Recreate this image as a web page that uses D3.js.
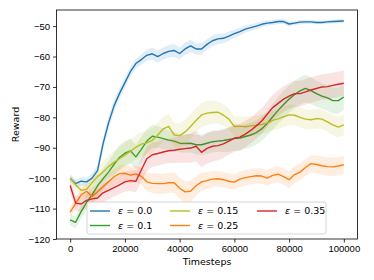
<!DOCTYPE html>
<html>
<head>
<meta charset="utf-8">
<script src="https://cdn.jsdelivr.net/npm/d3@7"></script>
<style>
  body { margin: 0; background: #fff; }
  svg { display: block; font-family: "DejaVu Sans", sans-serif; }
  .axis text { font-size: 9.5px; fill: #000; }
  .axis line { stroke: #000; stroke-width: 0.8; }
</style>
</head>
<body>
<svg width="374" height="280"></svg>
<script>
var steps = [0, 2000, 4000, 6000, 8000, 10000, 12000, 14000, 16000, 18000, 20000,
  22000, 24000, 26000, 28000, 30000, 32000, 34000, 36000, 38000, 40000,
  42000, 44000, 46000, 48000, 50000, 52000, 54000, 56000, 58000, 60000,
  62000, 64000, 66000, 68000, 70000, 72000, 74000, 76000, 78000, 80000,
  82000, 84000, 86000, 88000, 90000, 92000, 94000, 96000, 98000, 100000];

// mean reward per epsilon
var reward00 = [-100, -101.8, -101, -101.2, -100, -97.5, -88.7, -81.9, -76.3, -72.2, -68.6,
  -65, -62.3, -61, -59.6, -59.1, -60, -59, -58.3, -58, -59,
  -57.5, -56.5, -57.5, -57.5, -56, -54.8, -54.2, -54, -53.3, -52.5,
  -51.8, -51, -50.5, -50, -49.4, -49, -48.8, -48.5, -48.5, -49.3,
  -49, -48.7, -48.6, -48.6, -48.8, -48.8, -48.6, -48.5, -48.4, -48.3];
var reward01 = [-113.7, -114.5, -111, -108, -105.5, -102.5, -100.2, -98, -95.5, -93.2, -91.8,
  -91, -93, -90.5, -87.8, -86.2, -86.5, -87, -87.5, -87.8, -88.5,
  -88.6, -88.5, -89, -89, -88.5, -88, -87.8, -87.6, -87.3, -87,
  -86.8, -86.3, -85.8, -85, -83.8, -82, -79.8, -77.7, -75.8, -74,
  -72.5, -71.3, -70.5, -71.2, -72.2, -73, -73.6, -74.5, -74.5, -73.3];
var reward015 = [-100, -102.2, -104, -103.7, -101.5, -99.5, -98, -96.2, -94.8, -93.6, -92.4,
  -91.1, -89.9, -88.8, -88.4, -87.6, -85.8, -83.8, -83, -85.8, -86,
  -84.8, -83, -81, -79.2, -78.6, -78.4, -78.3, -79.3, -80.6, -83,
  -82.9, -83.1, -82.8, -82.6, -82.3, -81.9, -81, -80.5, -79.8, -79.2,
  -79.3, -80, -80.6, -80.8, -80.4, -80.6, -81.5, -82.5, -83.2, -82.5];
var reward025 = [-111.2, -108.3, -105.5, -104.3, -106, -104.5, -102.8, -101.2, -99.6, -98.5, -98.4,
  -99, -98.6, -99.4, -101.2, -101.7, -101.8, -101.8, -101.5, -101.5, -103.3,
  -104.5, -104.3, -102.5, -101.2, -100.8, -100.3, -100.2, -100.5, -101, -101.3,
  -100.3, -99.8, -99.5, -99.2, -99.3, -100, -99.1, -98.7, -99.5, -100.5,
  -98.8, -98, -96.5, -95.2, -95.5, -95.9, -96.2, -96.3, -96, -95.6];
var reward035 = [-102.4, -108.2, -108.5, -107.3, -106.8, -106.5, -104.8, -104, -103.1, -102.2, -101.2,
  -100.8, -101, -97.3, -93.6, -92.3, -91.9, -91.4, -91, -90.8, -90.5,
  -90.3, -90.1, -89.5, -91.5, -90.2, -89.5, -89.3, -88.7, -87.8, -86.8,
  -86.5, -85.5, -84.3, -82.8, -81.2, -79, -76.8, -75.4, -74, -73,
  -72.2, -72.2, -71.6, -71, -70.5, -70, -69.9, -69.5, -69.1, -68.8];

// spread (half width of shaded band)
var spread00 = [1.2, 1.3, 1.4, 1.4, 1.5, 1.8, 2, 2.2, 2, 1.8, 1.7,
  1.6, 1.6, 1.7, 1.8, 2, 2, 2, 2.1, 2.1, 2,
  2, 2, 1.9, 1.9, 1.8, 1.8, 1.7, 1.6, 1.5, 1.4,
  1.3, 1.2, 1.1, 1, 1, 0.9, 0.8, 0.8, 0.8, 0.8,
  0.7, 0.7, 0.7, 0.6, 0.6, 0.6, 0.6, 0.6, 0.6, 0.6];
var spread01 = [1.8, 2, 2.3, 2.6, 3, 3.3, 3.5, 3.6, 3.8, 4, 4,
  4, 4, 4, 4, 3.8, 3.6, 3.4, 3.2, 3, 3,
  3, 3, 3.2, 3.4, 3.5, 3.5, 3.6, 3.8, 4, 4,
  4, 4, 4, 4, 4, 4, 4.2, 4.4, 4.5, 4.5,
  4.5, 4.5, 4.5, 4.4, 4.3, 4.2, 4.2, 4.2, 4.3, 4.3];
var spread015 = [1.2, 1.5, 2, 2.3, 2.5, 3, 3.3, 3.6, 3.8, 4, 4,
  4, 4, 4, 4, 4, 4, 4, 4, 4, 4,
  4, 4, 4, 4, 4, 3.8, 3.6, 3.5, 3.4, 3.3,
  3.2, 3.2, 3.2, 3.2, 3.2, 3.2, 3.2, 3.3, 3.4, 3.4,
  3.4, 3.3, 3.2, 3.2, 3.2, 3.2, 3.2, 3.3, 3.4, 3.4];
var spread025 = [1.5, 1.8, 2, 2.2, 2.5, 2.5, 2.6, 2.6, 2.7, 2.8, 2.8,
  2.8, 2.8, 2.8, 3, 3.2, 3.3, 3.3, 3.3, 3.4, 3.5,
  3.5, 3.5, 3.3, 3, 2.8, 2.6, 2.5, 2.5, 2.5, 2.5,
  2.5, 2.5, 2.5, 2.5, 2.5, 2.5, 2.6, 2.6, 2.7, 2.8,
  2.8, 2.8, 2.8, 2.8, 2.9, 3, 3, 3, 3, 3];
var spread035 = [2, 2.5, 2.5, 2.5, 2.6, 2.8, 3, 3, 3, 3, 3.2,
  3.4, 3.6, 3.8, 4, 4, 4, 4, 4, 4.2, 4.4,
  4.6, 4.8, 5, 5, 5, 5, 4.8, 4.6, 4.5, 4.5,
  4.4, 4.3, 4.2, 4.2, 4.2, 4.2, 4.2, 4.2, 4.2, 4.2,
  4.2, 4.2, 4.2, 4.2, 4.2, 4.2, 4.2, 4.2, 4.2, 4.2];

var epsilons = ["0.0", "0.1", "0.15", "0.25", "0.35"];
var colors = ["#1f77b4", "#2ca02c", "#bcbd22", "#ff7f0e", "#d62728"];
var xTicks = [0, 20000, 40000, 60000, 80000, 100000];
var yTicks = [-120, -110, -100, -90, -80, -70, -60, -50];

var means = [reward00, reward01, reward015, reward025, reward035];
var spreads = [spread00, spread01, spread015, spread025, spread035];
var series = epsilons.map(function(e, k) {
  return {
    label: e,
    color: colors[k],
    values: steps.map(function(t, i) { return {t: t, m: means[k][i], s: spreads[k][i]}; })
  };
});

var svg = d3.select("svg"),
    margin = {top: 10, right: 16.5, bottom: 41, left: 56.5},
    width = +svg.attr("width") - margin.left - margin.right,
    height = +svg.attr("height") - margin.top - margin.bottom;

var x = d3.scaleLinear().domain([-5000, 105000]).range([0, width]),
    y = d3.scaleLinear().domain([-120, -44.7]).range([height, 0]);

var g = svg.append("g")
    .attr("transform", "translate(" + margin.left + "," + margin.top + ")");

var area = d3.area()
    .x(function(d) { return x(d.t); })
    .y0(function(d) { return y(d.m - d.s); })
    .y1(function(d) { return y(d.m + d.s); });
var line = d3.line()
    .x(function(d) { return x(d.t); })
    .y(function(d) { return y(d.m); });

series.forEach(function(s) {
  g.append("path")
      .datum(s.values)
      .attr("d", area)
      .style("fill", s.color)
      .style("fill-opacity", 0.13)
      .style("stroke", "none");
  g.append("path")
      .datum(s.values)
      .attr("d", line)
      .style("fill", "none")
      .style("stroke", s.color)
      .style("stroke-width", "1.4px")
      .style("stroke-linejoin", "round");
});

g.append("g")
    .attr("class", "axis")
    .attr("transform", "translate(0," + height + ")")
    .call(d3.axisBottom(x).tickValues(xTicks).tickFormat(d3.format("d")).tickSize(3.5).tickPadding(3))
    .call(function(a) { a.select(".domain").remove(); });

g.append("g")
    .attr("class", "axis")
    .call(d3.axisLeft(y).tickValues(yTicks).tickFormat(d3.format("d")).tickSize(3.5).tickPadding(3))
    .call(function(a) { a.select(".domain").remove(); });

g.append("rect")
    .attr("width", width)
    .attr("height", height)
    .style("fill", "none")
    .style("stroke", "#000")
    .style("stroke-width", 0.8);

svg.append("text")
    .attr("x", margin.left + width / 2)
    .attr("y", 265)
    .attr("text-anchor", "middle")
    .style("font-size", "9.5px")
    .text("Timesteps");

svg.append("text")
    .attr("transform", "translate(19," + (margin.top + height / 2) + ") rotate(-90)")
    .attr("text-anchor", "middle")
    .style("font-size", "9.5px")
    .text("Reward");

// legend, 3 columns
var legend = svg.append("g").attr("transform", "translate(87,202)");
legend.append("rect")
    .attr("width", 239)
    .attr("height", 32)
    .attr("rx", 2)
    .style("fill", "#fff")
    .style("fill-opacity", 0.8)
    .style("stroke", "#cccccc")
    .style("stroke-width", 0.8);

var colX = [3, 83, 170], rowY = [9, 23.5];
series.forEach(function(s, k) {
  var item = legend.append("g")
      .attr("transform", "translate(" + colX[Math.floor(k / 2)] + "," + rowY[k % 2] + ")");
  item.append("line")
      .attr("x1", 0).attr("x2", 20)
      .style("stroke", s.color)
      .style("stroke-width", "1.4px");
  var t = item.append("text")
      .attr("x", 28)
      .attr("dy", "0.35em")
      .style("font-size", "9.5px");
  t.append("tspan").style("font-style", "italic").text("ε");
  t.append("tspan").text(" = " + s.label);
});
</script>
</body>
</html>
